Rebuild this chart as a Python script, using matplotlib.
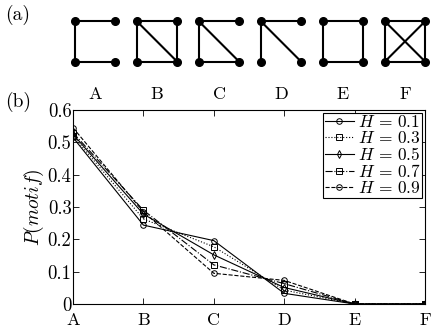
import numpy as np
import matplotlib
matplotlib.use('Agg')
import matplotlib.pyplot as plt

plt.rcParams['font.family'] = 'cmr10'
plt.rcParams['mathtext.fontset'] = 'cm'
plt.rcParams['axes.formatter.use_mathtext'] = True

motifs = ['A', 'B', 'C', 'D', 'E', 'F']
h_labels = ['$H\\,=\\,0.1$', '$H\\,=\\,0.3$', '$H\\,=\\,0.5$', '$H\\,=\\,0.7$', '$H\\,=\\,0.9$']
p_h01 = [0.515, 0.244, 0.196, 0.033, 0.0, 0.0]
p_h03 = [0.520, 0.263, 0.177, 0.043, 0.0, 0.0]
p_h05 = [0.525, 0.278, 0.152, 0.051, 0.0, 0.0]
p_h07 = [0.530, 0.290, 0.121, 0.063, 0.0, 0.0]
p_h09 = [0.545, 0.285, 0.095, 0.073, 0.0, 0.0]

# node positions of each motif drawing (unit square corners)
nodes = {'TL': (0, 1), 'TR': (1, 1), 'BL': (0, 0), 'BR': (1, 0)}
edges = {
    'A': [('TL', 'TR'), ('TL', 'BL'), ('BL', 'BR')],
    'B': [('TL', 'TR'), ('TR', 'BR'), ('BR', 'BL'), ('BL', 'TL'), ('TL', 'BR')],
    'C': [('TL', 'TR'), ('TL', 'BL'), ('BL', 'BR'), ('TL', 'BR')],
    'D': [('TL', 'TR'), ('TL', 'BL'), ('TL', 'BR')],
    'E': [('TL', 'TR'), ('TR', 'BR'), ('BR', 'BL'), ('BL', 'TL')],
    'F': [('TL', 'TR'), ('TR', 'BR'), ('BR', 'BL'), ('BL', 'TL'), ('TL', 'BR'), ('TR', 'BL')],
}

fig = plt.figure(figsize=(4.36, 3.29), dpi=100)

# (a) motif drawings
side = 0.66
axa = fig.add_axes([64 / 436, 1 - 105 / 329, 372 / 436, 95 / 329])
for i, m in enumerate(motifs):
    x0 = i - side / 2
    for a, b in edges[m]:
        xa, ya = nodes[a]
        xb, yb = nodes[b]
        axa.plot([x0 + xa * side, x0 + xb * side], [ya * side, yb * side],
                 color='black', lw=1.5, solid_capstyle='round')
    xs = [x0 + p[0] * side for p in nodes.values()]
    ys = [p[1] * side for p in nodes.values()]
    axa.plot(xs, ys, 'o', color='black', ms=5.5, ls='none')
    axa.text(i, -0.53, m, ha='center', va='center', fontsize=13)
axa.set_xlim(-0.5, 5.5)
axa.set_ylim(-0.694, 0.837)
axa.axis('off')

# (b) motif probabilities
ax = fig.add_axes([73 / 436, 25 / 329, 352 / 436, 194 / 329])
x = np.arange(len(motifs))
styles = [('-', 'o'), (':', 's'), ('-', 'd'), ('-.', 's'), ('--', 'o')]
for p, lab, (ls, mk) in zip([p_h01, p_h03, p_h05, p_h07, p_h09], h_labels, styles):
    ax.plot(x, p, ls=ls, marker=mk, color='black', lw=0.8, ms=4,
            mfc='none', mew=0.7, label=lab)
ax.set_xlim(0, 5)
ax.set_ylim(0, 0.6)
ax.set_xticks(x)
ax.set_xticklabels(motifs)
ax.set_yticks(np.arange(0, 0.61, 0.1))
ax.set_yticklabels(['0', '0.1', '0.2', '0.3', '0.4', '0.5', '0.6'])
ax.tick_params(direction='in', top=True, right=True, length=4, width=0.6)
ax.tick_params(axis='y', labelsize=13.5, pad=1)
ax.tick_params(axis='x', labelsize=13, pad=6)
for s in ax.spines.values():
    s.set_linewidth(0.8)
ax.set_ylabel('$P(motif)$', fontsize=14, labelpad=1)
leg = ax.legend(loc='upper right', fontsize=12.5, numpoints=1, handlelength=1.7,
                fancybox=False, edgecolor='black', framealpha=1,
                borderpad=0.1, labelspacing=0.0, handletextpad=0.2,
                borderaxespad=0.15)
leg.get_frame().set_linewidth(0.8)

fig.text(5 / 436, 1 - 15 / 329, '(a)', fontsize=14, va='center')
fig.text(5 / 436, 1 - 102 / 329, '(b)', fontsize=14, va='center')

fig.savefig('out.png', dpi=100)
